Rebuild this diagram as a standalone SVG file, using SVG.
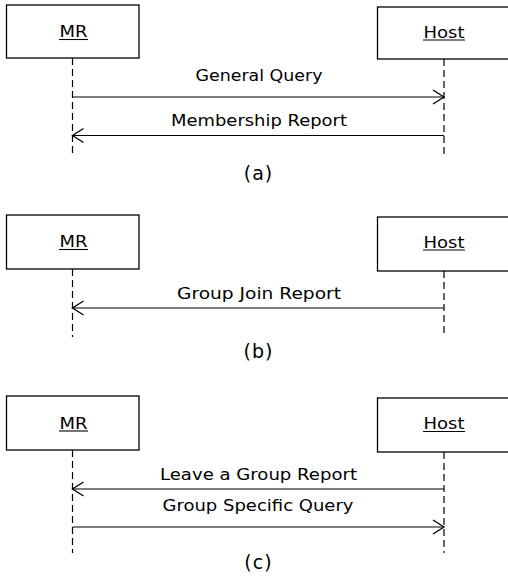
<svg xmlns="http://www.w3.org/2000/svg" width="508" height="578" viewBox="0 0 508 578">
  <style>
    .box { fill: #fff; stroke: #000; stroke-width: 1.3; }
    .life { stroke: #000; stroke-width: 1.2; stroke-dasharray: 7 4; fill: none; }
    .msg { stroke: #000; stroke-width: 1.2; fill: none; marker-end: url(#arrow); }
    .ul { stroke: #000; stroke-width: 1.1; }
    .name { font-family: "DejaVu Sans", "Liberation Sans", sans-serif; font-size: 16px; text-anchor: middle; fill: #000; }
    .lbl { font-family: "DejaVu Sans", "Liberation Sans", sans-serif; font-size: 16.5px; text-anchor: middle; fill: #000; }
    .cap { font-family: "DejaVu Sans", "Liberation Sans", sans-serif; font-size: 19px; text-anchor: middle; fill: #000; letter-spacing: 1px; }
  </style>
  <defs>
    <marker id="arrow" markerUnits="userSpaceOnUse" markerWidth="14" markerHeight="18" viewBox="-12 -8 14 16" refX="0" refY="0" orient="auto">
      <path d="M-11,-7 L0,0 L-11,7" fill="none" stroke="#000" stroke-width="1.3"/>
    </marker>
  </defs>

  <!-- (a) general query / membership report -->
  <g id="mr-a">
    <rect class="box" x="6.5" y="5" width="132.5" height="53"/>
    <text class="name" x="73.5" y="37" textLength="28" lengthAdjust="spacingAndGlyphs">MR</text>
    <line class="ul" x1="59" y1="39.5" x2="88" y2="39.5"/>
  </g>
  <g id="host-a">
    <rect class="box" x="377.5" y="7" width="140" height="52"/>
    <text class="name" x="444" y="37.5" textLength="41" lengthAdjust="spacingAndGlyphs">Host</text>
    <line class="ul" x1="423" y1="40" x2="465" y2="40"/>
  </g>
  <g id="connectors-a">
    <line class="life" x1="72.5" y1="58" x2="72.5" y2="157"/>
    <line class="life" x1="444" y1="59" x2="444" y2="157"/>
    <line class="msg" x1="72.5" y1="97" x2="444" y2="97"/>
    <line class="msg" x1="444" y1="135.5" x2="72.5" y2="135.5"/>
  </g>
  <text class="lbl" x="259" y="81" textLength="127" lengthAdjust="spacingAndGlyphs">General Query</text>
  <text class="lbl" x="259" y="126" textLength="176" lengthAdjust="spacingAndGlyphs">Membership Report</text>
  <text class="cap" x="258.5" y="180">(a)</text>

  <!-- (b) group join -->
  <g id="mr-b">
    <rect class="box" x="6.5" y="215" width="132.5" height="54"/>
    <text class="name" x="73.5" y="247" textLength="28" lengthAdjust="spacingAndGlyphs">MR</text>
    <line class="ul" x1="59" y1="249.5" x2="88" y2="249.5"/>
  </g>
  <g id="host-b">
    <rect class="box" x="377.5" y="217" width="140" height="54"/>
    <text class="name" x="444" y="247.5" textLength="41" lengthAdjust="spacingAndGlyphs">Host</text>
    <line class="ul" x1="423" y1="250" x2="465" y2="250"/>
  </g>
  <g id="connectors-b">
    <line class="life" x1="72.5" y1="269" x2="72.5" y2="337"/>
    <line class="life" x1="444" y1="271" x2="444" y2="337"/>
    <line class="msg" x1="444" y1="308" x2="72.5" y2="308"/>
  </g>
  <text class="lbl" x="259" y="299" textLength="164" lengthAdjust="spacingAndGlyphs">Group Join Report</text>
  <text class="cap" x="258.5" y="358">(b)</text>

  <!-- (c) leave / group specific query -->
  <g id="mr-c">
    <rect class="box" x="6.5" y="396" width="132.5" height="54"/>
    <text class="name" x="73.5" y="428.5" textLength="28" lengthAdjust="spacingAndGlyphs">MR</text>
    <line class="ul" x1="59" y1="431" x2="88" y2="431"/>
  </g>
  <g id="host-c">
    <rect class="box" x="377.5" y="398" width="140" height="54"/>
    <text class="name" x="444" y="429" textLength="41" lengthAdjust="spacingAndGlyphs">Host</text>
    <line class="ul" x1="423" y1="431.5" x2="465" y2="431.5"/>
  </g>
  <g id="connectors-c">
    <line class="life" x1="72.5" y1="450" x2="72.5" y2="553"/>
    <line class="life" x1="444" y1="452" x2="444" y2="553"/>
    <line class="msg" x1="444" y1="489" x2="72.5" y2="489"/>
    <line class="msg" x1="72.5" y1="527" x2="444" y2="527"/>
  </g>
  <text class="lbl" x="258.5" y="480" textLength="197" lengthAdjust="spacingAndGlyphs">Leave a Group Report</text>
  <text class="lbl" x="258" y="511" textLength="191" lengthAdjust="spacingAndGlyphs">Group Specific Query</text>
  <text class="cap" x="258.5" y="569">(c)</text>
</svg>
